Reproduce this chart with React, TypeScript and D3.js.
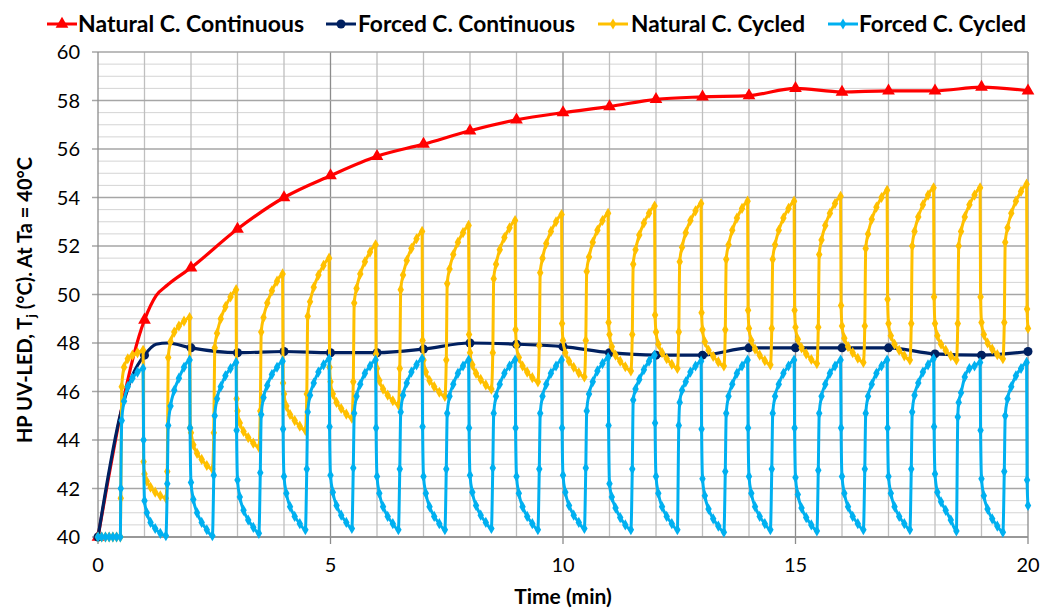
import React, { useEffect } from 'react';
import * as d3 from 'd3';

const W = 1041;
const H = 610;
const margin = { top: 52, right: 13, bottom: 73, left: 98 };

// continuous operation (markers every full minute)
const natContTimes = [0, 1, 1.25, 1.5, 2, 3, 4, 5, 6, 7, 8, 9, 10, 11, 12, 13, 14, 15, 16, 17, 18, 19, 20];
const natContValues = [40, 48.95, 49.95, 50.4, 51.1, 52.7, 54.0, 54.9, 55.7, 56.2, 56.75, 57.2, 57.5, 57.75, 58.05, 58.15, 58.2, 58.5, 58.35, 58.4, 58.4, 58.55, 58.4];
const forcedContTimes = [0, 0.5, 0.75, 1, 1.25, 1.5, 2, 3, 4, 5, 6, 7, 8, 9, 10, 11, 12, 13, 14, 15, 16, 17, 18, 19, 20];
const forcedContValues = [40, 45.2, 46.7, 47.5, 47.95, 48.0, 47.8, 47.6, 47.65, 47.6, 47.6, 47.75, 48.0, 47.95, 47.85, 47.6, 47.5, 47.5, 47.8, 47.8, 47.8, 47.8, 47.55, 47.5, 47.65];

// cycled operation: 30 s on / 30 s off
const idleTimes = [0, 0.08, 0.16, 0.24, 0.32, 0.4, 0.48];
const idleValues = [40, 40, 40, 40, 40, 40, 40];
const cycleStarts = d3.range(0.48, 20, 1);
const onLength = 0.49;
const riseOffsets = [0.01, 0.03, 0.08, 0.16, 0.26, 0.37, 0.49];
const fallOffsets = [0.01, 0.03, 0.08, 0.16, 0.26, 0.37, 0.49];

const natCycRise = [
  [41.6, 46.2, 47.0, 47.35, 47.5, 47.6, 47.7],
  [42.7, 47.4, 48.05, 48.45, 48.7, 48.9, 49.05],
  [44.3, 47.8, 48.4, 49.0, 49.5, 49.9, 50.2],
  [45.2, 48.45, 49.05, 49.65, 50.15, 50.55, 50.85],
  [45.9, 49.1, 49.7, 50.3, 50.8, 51.2, 51.5],
  [46.4, 49.65, 50.25, 50.85, 51.35, 51.75, 52.05],
  [46.95, 50.2, 50.8, 51.4, 51.9, 52.3, 52.6],
  [47.3, 50.45, 51.05, 51.65, 52.15, 52.55, 52.85],
  [47.6, 50.65, 51.25, 51.85, 52.35, 52.75, 53.05],
  [47.9, 50.9, 51.5, 52.1, 52.6, 53.0, 53.3],
  [48.1, 50.95, 51.55, 52.15, 52.65, 53.05, 53.35],
  [48.35, 51.25, 51.85, 52.45, 52.95, 53.35, 53.65],
  [48.45, 51.35, 51.95, 52.55, 53.05, 53.45, 53.75],
  [48.55, 51.45, 52.05, 52.65, 53.15, 53.55, 53.85],
  [48.6, 51.45, 52.05, 52.65, 53.15, 53.55, 53.85],
  [48.65, 51.65, 52.25, 52.85, 53.35, 53.75, 54.05],
  [48.7, 51.9, 52.5, 53.1, 53.6, 54.0, 54.3],
  [48.8, 52.0, 52.6, 53.2, 53.7, 54.1, 54.4],
  [48.8, 52.0, 52.6, 53.2, 53.7, 54.1, 54.4],
  [48.85, 52.15, 52.75, 53.35, 53.85, 54.25, 54.55],
];
const natCycFall = [
  [43.1, 42.6, 42.3, 42.05, 41.85, 41.7, 41.6],
  [44.5, 44.3, 43.8, 43.45, 43.2, 42.95, 42.8],
  [45.7, 45.2, 44.7, 44.35, 44.1, 43.87, 43.7],
  [46.35, 45.9, 45.4, 45.05, 44.8, 44.57, 44.4],
  [47.0, 46.4, 45.9, 45.55, 45.3, 45.07, 44.9],
  [47.55, 46.95, 46.45, 46.1, 45.85, 45.62, 45.45],
  [48.1, 47.3, 46.8, 46.45, 46.2, 45.97, 45.8],
  [48.35, 47.6, 47.1, 46.75, 46.5, 46.27, 46.1],
  [48.55, 47.9, 47.4, 47.05, 46.8, 46.57, 46.4],
  [48.8, 48.1, 47.6, 47.25, 47.0, 46.77, 46.6],
  [48.85, 48.35, 47.85, 47.5, 47.25, 47.02, 46.85],
  [49.15, 48.45, 47.95, 47.6, 47.35, 47.12, 46.95],
  [49.25, 48.55, 48.05, 47.7, 47.45, 47.22, 47.05],
  [49.35, 48.6, 48.1, 47.75, 47.5, 47.27, 47.1],
  [49.35, 48.65, 48.15, 47.8, 47.55, 47.32, 47.15],
  [49.55, 48.7, 48.2, 47.85, 47.6, 47.37, 47.2],
  [49.8, 48.8, 48.3, 47.95, 47.7, 47.47, 47.3],
  [49.9, 48.8, 48.3, 47.95, 47.7, 47.47, 47.3],
  [49.9, 48.85, 48.35, 48.0, 47.75, 47.52, 47.35],
  [49.4, 48.6],
];
const forcedCycRise = [
  [42.0, 44.8, 45.6, 46.2, 46.55, 46.8, 46.95],
  [42.2, 44.6, 45.4, 46.05, 46.55, 47.0, 47.3],
  [42.55, 45.0, 45.7, 46.2, 46.65, 46.95, 47.2],
  [42.65, 45.05, 45.75, 46.25, 46.7, 47.0, 47.25],
  [42.8, 45.15, 45.85, 46.35, 46.8, 47.1, 47.35],
  [42.85, 45.1, 45.8, 46.3, 46.75, 47.05, 47.3],
  [42.8, 45.15, 45.85, 46.35, 46.8, 47.1, 47.35],
  [42.8, 45.1, 45.8, 46.3, 46.75, 47.05, 47.3],
  [42.85, 45.1, 45.8, 46.3, 46.75, 47.05, 47.3],
  [42.8, 45.1, 45.8, 46.3, 46.75, 47.05, 47.3],
  [42.85, 45.2, 45.9, 46.4, 46.85, 47.15, 47.4],
  [42.8, 45.65, 46.1, 46.5, 46.9, 47.25, 47.5],
  [44.6, 45.55, 46.05, 46.4, 46.8, 47.05, 47.25],
  [42.7, 45.1, 45.8, 46.3, 46.75, 47.05, 47.3],
  [42.8, 45.1, 45.8, 46.3, 46.75, 47.05, 47.3],
  [42.75, 45.1, 45.8, 46.3, 46.75, 47.05, 47.3],
  [42.8, 45.1, 45.8, 46.3, 46.75, 47.05, 47.3],
  [42.8, 45.15, 45.85, 46.35, 46.8, 47.1, 47.35],
  [44.95, 45.55, 45.95, 46.6, 46.95, 47.05, 47.2],
  [42.7, 45.0, 45.7, 46.2, 46.65, 46.95, 47.2],
];
const forcedCycFall = [
  [44.0, 41.5, 41.0, 40.6, 40.35, 40.15, 40.05],
  [44.5, 42.25, 41.55, 41.0, 40.6, 40.3, 40.05],
  [44.4, 42.35, 41.65, 41.1, 40.7, 40.4, 40.15],
  [44.45, 42.5, 41.8, 41.25, 40.85, 40.55, 40.3],
  [44.55, 42.55, 41.85, 41.3, 40.9, 40.6, 40.35],
  [44.5, 42.5, 41.8, 41.25, 40.85, 40.55, 40.3],
  [44.55, 42.5, 41.8, 41.25, 40.85, 40.55, 40.3],
  [44.5, 42.55, 41.85, 41.3, 40.9, 40.6, 40.35],
  [44.5, 42.5, 41.8, 41.25, 40.85, 40.55, 40.3],
  [44.5, 42.55, 41.85, 41.3, 40.9, 40.6, 40.35],
  [44.6, 42.2, 41.65, 41.2, 40.8, 40.5, 40.3],
  [44.7, 42.5, 41.8, 41.25, 40.85, 40.55, 40.3],
  [44.45, 42.4, 41.7, 41.15, 40.75, 40.45, 40.2],
  [44.5, 42.5, 41.8, 41.25, 40.85, 40.55, 40.3],
  [44.5, 42.45, 41.75, 41.2, 40.8, 40.5, 40.25],
  [44.5, 42.5, 41.8, 41.25, 40.85, 40.55, 40.3],
  [44.5, 42.5, 41.8, 41.25, 40.85, 40.55, 40.3],
  [44.55, 42.6, 41.85, 41.45, 41.1, 40.7, 40.25],
  [44.4, 42.4, 41.7, 41.15, 40.75, 40.45, 40.2],
  [42.35, 41.3],
];

const legendItems = [
  { label: 'Natural C. Continuous', color: '#FF0000', marker: 'triangle', lineX: 47, textX: 78, textW: 226 },
  { label: 'Forced C. Continuous', color: '#002060', marker: 'circle', lineX: 326, textX: 358, textW: 217 },
  { label: 'Natural C. Cycled', color: '#FFC000', marker: 'diamond', lineX: 598, textX: 631, textW: 174 },
  { label: 'Forced C. Cycled', color: '#00B0F0', marker: 'diamond', lineX: 828, textX: 859, textW: 167 },
];

const yTicks = d3.range(40, 61, 2);
const xTicks = [0, 5, 10, 15, 20];

function cycledPoints(rise: number[][], fall: number[][]) {
  const pts: [number, number][] = idleTimes.map((t, i) => [t, idleValues[i]]);
  cycleStarts.forEach((s, k) => {
    rise[k].forEach((v, i) => pts.push([s + riseOffsets[i], v]));
    fall[k].forEach((v, i) => pts.push([s + onLength + fallOffsets[i], v]));
  });
  return pts;
}

export default function App() {
  useEffect(() => {
    document.body.style.margin = '0';
  }, []);

  const x = d3.scaleLinear().domain([0, 20]).range([margin.left, W - margin.right]);
  const y = d3.scaleLinear().domain([40, 60]).range([H - margin.bottom, margin.top]);

  const line = d3
    .line<[number, number]>()
    .x((d) => x(d[0]))
    .y((d) => y(d[1]))
    .curve(d3.curveMonotoneX);

  const natCont: [number, number][] = natContTimes.map((t, i) => [t, natContValues[i]]);
  const forcedCont: [number, number][] = forcedContTimes.map((t, i) => [t, forcedContValues[i]]);
  const natCyc = cycledPoints(natCycRise, natCycFall);
  const forcedCyc = cycledPoints(forcedCycRise, forcedCycFall);

  const tri = d3.symbol().type(d3.symbolTriangle).size(70)();
  const dia = d3.symbol().type(d3.symbolDiamond).size(36)();

  const minorY = d3.range(40.5, 60, 0.5).filter((v) => v % 2 !== 0);
  const gridX = d3.range(1, 21);

  const font = 'Lato, "Open Sans", sans-serif';

  return (
    <svg width={W} height={H} style={{ display: 'block', background: '#fff' }} fontFamily={font}>
      {/* grid */}
      <g>
        {minorY.map((v) => (
          <line key={'my' + v} x1={x(0)} x2={x(20)} y1={y(v)} y2={y(v)} stroke="#d4d4d4" strokeWidth={1} />
        ))}
        {gridX.map((v) => (
          <line key={'gx' + v} x1={x(v)} x2={x(v)} y1={y(40)} y2={y(60)} stroke={v % 5 === 0 ? '#8c8c8c' : '#bfbfbf'} strokeWidth={1.3} />
        ))}
        {yTicks.map((v) => (
          <line key={'gy' + v} x1={x(0) - 6} x2={x(20)} y1={y(v)} y2={y(v)} stroke="#a6a6a6" strokeWidth={1.3} />
        ))}
        <line x1={x(0)} x2={x(0)} y1={y(40)} y2={y(60)} stroke="#8c8c8c" strokeWidth={1.3} />
        <line x1={x(0)} x2={x(20)} y1={y(40)} y2={y(40)} stroke="#8c8c8c" strokeWidth={1.3} />
        {xTicks.map((v) => (
          <line key={'xt' + v} x1={x(v)} x2={x(v)} y1={y(40)} y2={y(40) + 7} stroke="#8c8c8c" strokeWidth={1.3} />
        ))}
      </g>

      {/* axis labels */}
      <g fontSize={20} fill="#000">
        {yTicks.map((v) => (
          <text key={'yl' + v} x={x(0) - 18} y={y(v)} dy="0.35em" textAnchor="end">{v}</text>
        ))}
        {xTicks.map((v) => (
          <text key={'xl' + v} x={x(v)} y={572} textAnchor="middle">{v}</text>
        ))}
      </g>
      <text x={x(10)} y={604} textAnchor="middle" fontSize={21} fontWeight="bold">Time (min)</text>
      <text transform={`translate(32, 300) rotate(-90)`} textAnchor="middle" fontSize={20} fontWeight="bold">
        HP UV-LED, T<tspan fontSize={14} dy={4}>j</tspan><tspan dy={-4}> (°C). At Ta = 40°C</tspan>
      </text>

      {/* series */}
      <path d={line(natCont) || ''} fill="none" stroke="#FF0000" strokeWidth={3.2} />
      {natCont.filter((d) => Number.isInteger(d[0])).map((d, i) => (
        <path key={'nc' + i} d={tri} transform={`translate(${x(d[0])},${y(d[1])})`} fill="#FF0000" />
      ))}
      <path d={line(forcedCont) || ''} fill="none" stroke="#002060" strokeWidth={3.2} />
      {forcedCont.filter((d) => Number.isInteger(d[0])).map((d, i) => (
        <circle key={'fc' + i} cx={x(d[0])} cy={y(d[1])} r={4.5} fill="#002060" />
      ))}
      <path d={line(natCyc) || ''} fill="none" stroke="#FFC000" strokeWidth={3} />
      {natCyc.map((d, i) => (
        <path key={'ny' + i} d={dia} transform={`translate(${x(d[0])},${y(d[1])})`} fill="#FFC000" />
      ))}
      <path d={line(forcedCyc) || ''} fill="none" stroke="#00B0F0" strokeWidth={3} />
      {forcedCyc.map((d, i) => (
        <path key={'fy' + i} d={dia} transform={`translate(${x(d[0])},${y(d[1])})`} fill="#00B0F0" />
      ))}

      {/* legend */}
      <g>
        {legendItems.map((it) => (
          <g key={it.label}>
            <line x1={it.lineX} x2={it.lineX + 30} y1={24} y2={24} stroke={it.color} strokeWidth={3} />
            {it.marker === 'triangle' && <path d={tri} transform={`translate(${it.lineX + 15},24)`} fill={it.color} />}
            {it.marker === 'circle' && <circle cx={it.lineX + 15} cy={24} r={4.5} fill={it.color} />}
            {it.marker === 'diamond' && <path d={dia} transform={`translate(${it.lineX + 15},24)`} fill={it.color} />}
            <text x={it.textX} y={32} fontSize={23} fontWeight="bold" textLength={it.textW} lengthAdjust="spacingAndGlyphs">{it.label}</text>
          </g>
        ))}
      </g>
    </svg>
  );
}
